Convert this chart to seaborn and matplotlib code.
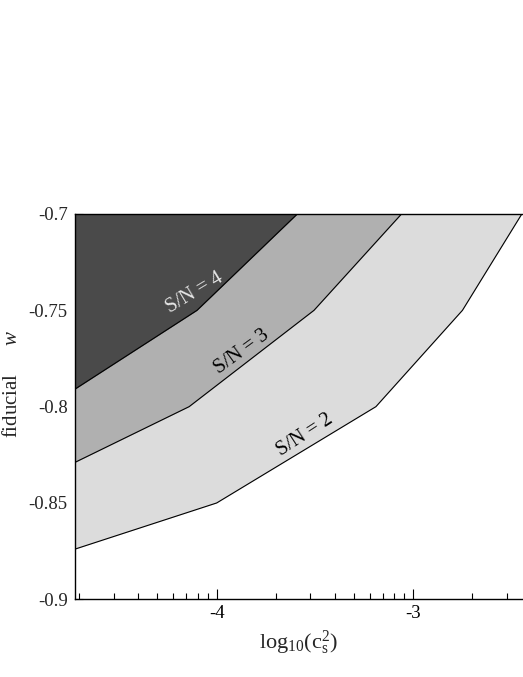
import numpy as np
import pandas as pd
import matplotlib
matplotlib.use("Agg")
import matplotlib.pyplot as plt
import seaborn as sns

# ---- data ----
x_min, x_max = -4.722, -2.442
y_min, y_max = -0.9, -0.7

sn2_x = [-4.722, -4.00, -3.19, -2.75, -2.448]
sn2_y = [-0.874, -0.850, -0.800, -0.750, -0.700]
sn3_x = [-4.722, -4.14, -3.505, -3.06]
sn3_y = [-0.829, -0.800, -0.750, -0.700]
sn4_x = [-4.722, -4.10, -3.59]
sn4_y = [-0.791, -0.750, -0.700]

levels = ["S/N = 2", "S/N = 3", "S/N = 4"]
fill_colors = ["#dcdcdc", "#b0b0b0", "#4a4a4a"]
label_colors = ["black", "black", "#e6e6e6"]
label_x = [-3.551, -3.871, -4.110]
label_y = [-0.8148, -0.7717, -0.7410]
label_rot = [33, 36, 31]

x_major = [-4, -3]
x_major_labels = ["-4", "-3"]
y_major = [-0.9, -0.85, -0.8, -0.75, -0.7]
y_major_labels = ["-0.9", "-0.85", "-0.8", "-0.75", "-0.7"]

sns.set_theme(style="ticks")
plt.rcParams["font.family"] = ["Liberation Serif", "DejaVu Serif"]
plt.rcParams["mathtext.fontset"] = "custom"
plt.rcParams["mathtext.rm"] = "Liberation Serif"
plt.rcParams["mathtext.it"] = "Liberation Serif:italic"
plt.rcParams["axes.unicode_minus"] = False

fig = plt.figure(figsize=(5.23, 6.77), dpi=100)
ax = fig.add_axes([74.7 / 523, 1 - 599.3 / 677, (523 - 74.7) / 523, (599.3 - 214) / 677])

frames = []
for name, xs, ys in zip(levels, [sn2_x, sn3_x, sn4_x], [sn2_y, sn3_y, sn4_y]):
    frames.append(pd.DataFrame({"x": xs, "y": ys, "level": name}))
df = pd.concat(frames, ignore_index=True)

for name, col in zip(levels, fill_colors):
    d = df[df["level"] == name]
    ax.fill_between(d["x"], d["y"], y_max, color=col, linewidth=0, zorder=1)

sns.lineplot(data=df, x="x", y="y", units="level", estimator=None, sort=False,
             color="black", linewidth=0.8, ax=ax, legend=False, zorder=3)

for name, tx, ty, rot, tc in zip(levels, label_x, label_y, label_rot, label_colors):
    ax.text(tx, ty, name, rotation=rot, ha="center", va="center", color=tc,
            fontsize=14.5, zorder=4, rotation_mode="anchor")

ax.set_xlim(x_min, x_max)
ax.set_ylim(y_min, y_max)
ax.set_xticks(x_major)
ax.set_xticklabels(x_major_labels)
minor = [np.log10(k * 10.0 ** n) for n in (-5, -4, -3) for k in range(2, 10)]
minor = [m for m in minor if x_min < m < x_max]
ax.set_xticks(minor, minor=True)
ax.set_yticks(y_major)
ax.set_yticklabels(y_major_labels)

ax.tick_params(axis="x", which="both", direction="in", top=True, bottom=True,
               labelsize=13.5, pad=4, width=0.8, colors="black")
ax.tick_params(axis="x", which="major", length=7)
ax.tick_params(axis="x", which="minor", length=4)
ax.tick_params(axis="y", which="major", direction="in", length=6, width=0.8,
               labelsize=13.5, pad=5, right=False)

for side in ["left", "bottom", "top"]:
    ax.spines[side].set_linewidth(1.0)
    ax.spines[side].set_color("black")
ax.spines["right"].set_visible(False)

ax.set_xlabel(r"log$_{10}$(c$_{\mathrm{s}}^{2}$)", fontsize=16, labelpad=5)
ax.set_ylabel(r"fiducial $\quad\;\;w$", fontsize=15)
ax.yaxis.set_label_coords(-0.117, 0.56)

fig.savefig("out.png", dpi=100)
